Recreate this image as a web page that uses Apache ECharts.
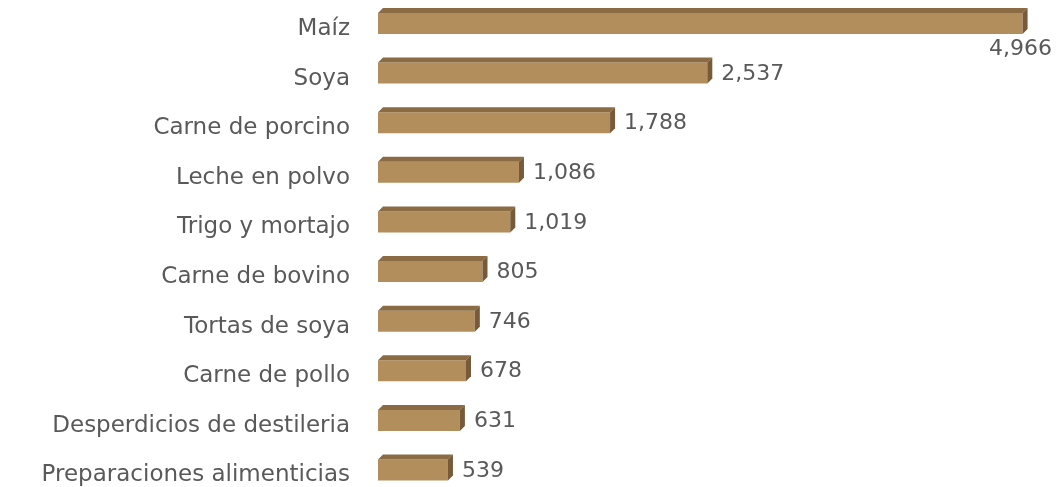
<!DOCTYPE html>
<html lang="es">
<head>
    <meta charset="UTF-8">
    <title>Importaciones</title>
    <script src="https://cdn.jsdelivr.net/npm/echarts@6/dist/echarts.min.js"></script>
</head>
<body style="margin:0;background:#fff;">
<div id="main" style="width: 1056px;height: 487px;"></div>
<script>
    // productos, de arriba hacia abajo
    var categorias = ['Maíz', 'Soya', 'Carne de porcino', 'Leche en polvo', 'Trigo y mortajo',
        'Carne de bovino', 'Tortas de soya', 'Carne de pollo', 'Desperdicios de destileria',
        'Preparaciones alimenticias'];
    var valores = [4966, 2537, 1788, 1086, 1019, 805, 746, 678, 631, 539];

    var fuente = '22px "DejaVu Sans"';
    var colorTexto = '#595959';

    var datos = [];
    for (var i = 0; i < valores.length; i++) {
        datos.push([valores[i], i]);
    }

    // barra en 3D: cara frontal, tapa y costado
    function renderBarra(params, api) {
        var val = api.value(0);
        var cat = api.value(1);
        var ini = api.coord([0, cat]);
        var fin = api.coord([val, cat]);
        var h = 21, d = 5;
        var x0 = ini[0], x1 = fin[0], yc = fin[1];
        var yt = yc - h / 2, yb = yc + h / 2;

        var txt = val.toLocaleString('en-US');
        var lbl;
        if (x1 + d + 10 + 60 > api.getWidth()) {
            // no cabe a la derecha: debajo, alineado a la derecha
            lbl = {x: api.getWidth() - 4, y: yb + 15, align: 'right'};
        } else {
            lbl = {x: x1 + d + 9, y: yc + 1, align: 'left'};
        }

        return {
            type: 'group',
            children: [
                {
                    type: 'rect',
                    shape: {x: x0, y: yt, width: x1 - x0, height: h},
                    style: {fill: '#B38E5D'}
                },
                {
                    type: 'polygon',
                    shape: {points: [[x0, yt], [x0 + d, yt - d], [x1 + d, yt - d], [x1, yt]]},
                    style: {fill: '#8A6B44'}
                },
                {
                    type: 'polygon',
                    shape: {points: [[x1, yt], [x1 + d, yt - d], [x1 + d, yb - d], [x1, yb]]},
                    style: {fill: '#765A39'}
                },
                {
                    type: 'text',
                    style: {
                        text: txt, x: lbl.x, y: lbl.y, align: lbl.align, verticalAlign: 'middle',
                        font: fuente, fill: colorTexto
                    }
                }
            ]
        };
    }

    var chart = echarts.init(document.getElementById('main'));
    chart.setOption({
        animation: false,
        grid: {left: 378, width: 649, top: 23.5, bottom: 15},
        xAxis: {
            type: 'value', min: 0, max: 5000, show: false
        },
        yAxis: {
            type: 'category', data: categorias, inverse: true, boundaryGap: false,
            axisLine: {show: false}, axisTick: {show: false}, splitLine: {show: false},
            axisLabel: {
                margin: 28, fontSize: 23, fontFamily: 'DejaVu Sans', color: colorTexto,
                verticalAlign: 'top', padding: [-6, 0, 0, 0]
            }
        },
        series: [{
            type: 'custom',
            renderItem: renderBarra,
            encode: {x: 0, y: 1},
            data: datos
        }]
    });
</script>
</body>
</html>
